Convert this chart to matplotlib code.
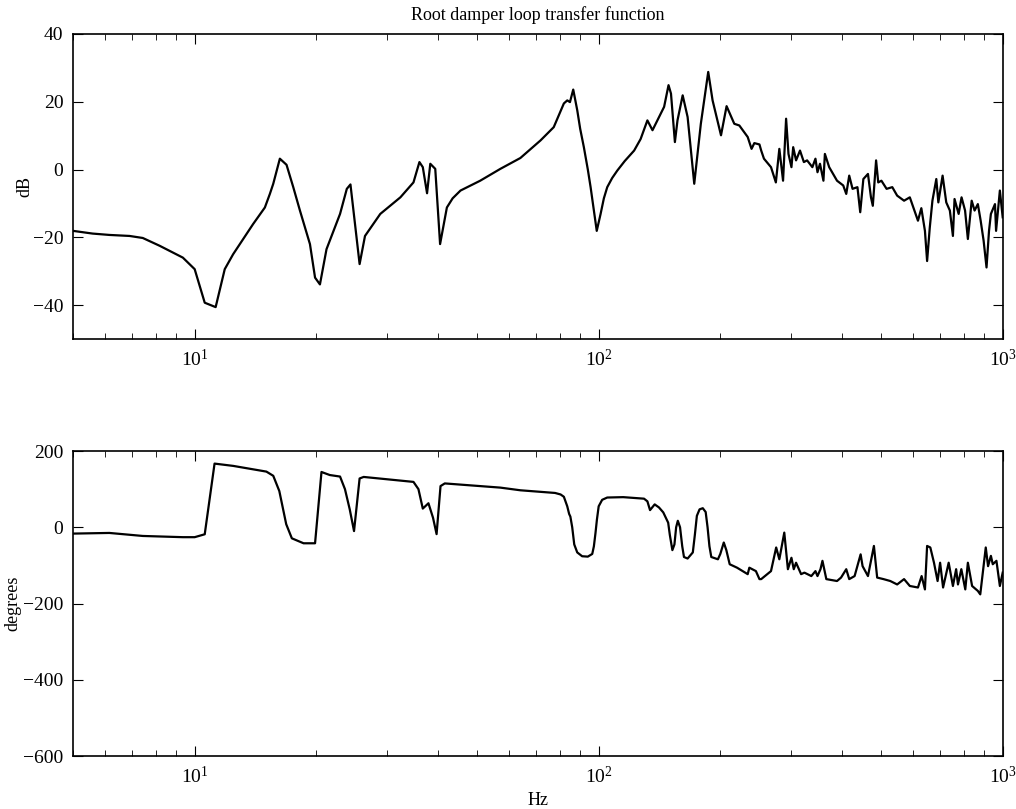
import numpy as np
import matplotlib
matplotlib.use('Agg')
import matplotlib.pyplot as plt

# -------------------------------
# Magnitude (dB)
# -------------------------------
mag_freq = [5.0, 5.59, 6.15, 6.9, 7.44, 8.19, 9.35, 10.0, 10.59, 11.27, 11.87, 12.45,
            13.95, 14.92, 15.35, 15.65, 16.25, 16.88, 17.54, 18.22, 19.29, 19.86, 20.42,
            21.2, 22.9, 23.8, 24.3, 25.6, 26.4, 28.8, 32.3, 34.8, 36.0, 36.7, 37.6, 38.3,
            39.4, 40.5, 42.1, 43.5, 45.5, 50.9, 57.1, 64.0, 71.8, 77.4, 82.0, 83.6, 84.9,
            86.5, 88.5, 90.0, 91.9, 94.0, 95.5, 97.0, 98.9, 101.1, 103, 105, 108, 111.2,
            116, 122.4, 127, 132, 135.9, 145.2, 148.9, 151, 154.4, 156.7, 161.4, 166,
            172.4, 179, 186.7, 191.4, 200.8, 207.3, 216.6, 222.9, 233.8, 239, 242.8, 250,
            252.5, 256.5, 267, 274.5, 280, 286, 291, 295, 300, 303, 308, 315, 322, 328,
            338, 344, 348, 353, 360, 363, 372, 389, 403, 410, 417, 425, 437, 444, 452,
            464, 472, 477, 486, 492, 501, 516, 533, 548, 570, 589, 617, 629, 642, 650,
            660, 670, 685, 693, 710, 725, 740, 753, 760, 778, 791, 807, 820, 838, 852,
            868, 882, 897, 912, 925, 935, 957, 963, 984, 1000]
mag_db = [-18.1, -18.9, -19.3, -19.6, -20.2, -22.5, -26, -29.4, -39.3, -40.6, -29.4, -25,
          -16.1, -11.2, -7.2, -4.2, 3.2, 1.4, -5.2, -12.1, -22, -31.9, -33.9,
          -23.5, -13.1, -5.7, -4.4, -27.9, -19.6, -13.1, -8.2, -3.8, 2.2, 0.7, -7.0, 1.7,
          0.2, -22, -11.2, -8.5, -6.2, -3.3, 0.2, 3.4, 8.6, 12.5, 19.5, 20.4, 19.9,
          23.6, 17.5, 12, 6.6, 0, -5.2, -11, -18.1, -13.1, -8.5, -5.2, -2.5, -0.3,
          2.5, 5.6, 9, 14.5, 11.6, 18.5, 24.9, 22.4, 8.1, 14.5, 21.9, 15.5,
          -4.2, 13.5, 28.8, 20.4, 10.1, 18.7, 13.5, 13, 9.6, 6.1, 7.8, 7.4,
          5.6, 3.2, 0.7, -3.8, 6.1, -3.3, 15.0, 4.6, 0.7, 6.6, 2.7, 5.6, 2.2, 2.7,
          0.7, 3.2, -0.8, 1.7, -3.3, 4.6, 0.7, -3.3, -4.7, -7.2, -1.8, -5.7, -5.2, -12.6, -2.8,
          -1.3, -8.2, -10.7, 2.7, -3.8, -3.3, -5.7, -5.2, -7.7, -9.2, -8.2, -15.1, -11.4, -18.1, -27,
          -17.1, -9.2, -2.8, -9.7, -1.8, -9.7, -12.1, -19.6, -8.7, -13.1, -8.2, -12.1, -20.5, -9.2, -12.1,
          -10.2, -15.1, -21, -28.9, -18.1, -13.1, -10.2, -18.1, -6.2, -14.1]

# -------------------------------
# Phase (degrees)
# -------------------------------
ph_freq = [5.0, 6.15, 7.44, 8.5, 9.35, 10.0, 10.59, 11.2, 12.45, 13.95, 15.05, 15.65, 16.2,
           16.85, 17.4, 18.6, 19.86, 20.6, 21.6, 22.9, 23.55, 24.2, 24.8, 25.6, 26.2, 34.8,
           35.8, 36.7, 37.9, 38.9, 39.7, 40.6, 41.6, 57.1, 64, 78, 80.5, 82, 83.6, 84.5,
           85.1, 86, 87, 88.5, 91, 94, 96.4, 97.3, 98.2, 99, 100, 102, 105, 115, 129.5,
           132, 134, 137.6, 141, 144.5, 148.6, 150, 152.2, 154, 155.5, 157, 159, 161,
           162.6, 166, 171, 173, 175, 177.7, 181, 184, 186, 188, 190, 197.3, 200, 204,
           207, 211, 220, 233.8, 236, 245, 250,
           252.5, 267, 275, 280, 288, 294, 300, 304, 308, 317, 323, 336, 344, 348, 354,
           358, 366, 389, 398, 410, 417, 430, 445, 450, 464, 480, 489, 507, 527, 548,
           570, 589, 617, 630, 642, 650, 662, 676, 690, 700, 712, 735, 753, 767, 775,
           790, 808, 820, 840, 868, 880, 908, 920, 935, 945, 965, 984, 1000]
ph_deg = [-16.6, -14.9, -22.8, -24.5, -26, -26, -18.4, 167, 161, 152, 146, 135, 95,
          8, -29, -42, -42, 145, 137, 133, 100, 47, -10, 128, 132, 119,
          100, 49, 63, 25, -18, 108, 115, 104, 97, 90, 86, 80, 55, 35,
          28, 0, -45, -66, -76, -77, -70, -50, -15, 20, 55, 72, 78, 79, 75,
          68, 45, 60, 52, 39, 12, -20, -60, -45, 0, 17, 0, -50,
          -78, -82, -66, -20, 30, 47, 50, 40, 0, -50, -78, -84, -70, -40,
          -60, -97, -106, -123, -106, -115, -136,
          -136, -115, -53, -84, -14, -110, -80, -110, -93, -123, -119, -128, -115, -128, -110,
          -88, -136, -141, -132, -110, -136, -128, -71, -102, -128, -49, -132, -136, -141, -150,
          -136, -154, -158, -128, -163, -49, -53, -93, -141, -93, -158, -93, -154, -110, -150,
          -110, -163, -93, -154, -167, -176, -53, -102, -75, -97, -88, -154, -119]

title = 'Root damper loop transfer function'

# sort in case any reading was entered out of order
mi = np.argsort(mag_freq)
pi = np.argsort(ph_freq)

# -------------------------------
# Figure
# -------------------------------
plt.rcParams['font.family'] = ['Liberation Serif', 'DejaVu Serif']
plt.rcParams['mathtext.fontset'] = 'stix'
plt.rcParams['font.size'] = 13

fig = plt.figure(figsize=(10.16, 8.09), dpi=100)
ax1 = fig.add_axes([0.0719, 0.581, 0.915, 0.377])
ax2 = fig.add_axes([0.0719, 0.0655, 0.915, 0.377])

ax1.semilogx(np.array(mag_freq)[mi], np.array(mag_db)[mi], color='black', linewidth=1.6)
ax2.semilogx(np.array(ph_freq)[pi], np.array(ph_deg)[pi], color='black', linewidth=1.6)

ax1.set_xlim(5, 1000)
ax1.set_ylim(-50, 40)
ax1.set_yticks([-40, -20, 0, 20, 40])
ax1.set_ylabel('dB')
ax1.yaxis.set_label_coords(-0.043, 0.5)
ax1.set_title(title, fontsize=13, pad=10)

ax2.set_xlim(5, 1000)
ax2.set_ylim(-600, 200)
ax2.set_yticks([-600, -400, -200, 0, 200])
ax2.set_ylabel('degrees')
ax2.yaxis.set_label_coords(-0.056, 0.5)
ax2.set_xlabel('Hz')

for ax in (ax1, ax2):
    ax.tick_params(which='both', direction='in', top=True, right=True, labelsize=14)
    ax.tick_params(which='major', length=7, pad=7)
    ax.tick_params(which='minor', length=4)
    for s in ax.spines.values():
        s.set_linewidth(1.2)

fig.savefig('out.png', dpi=100)
